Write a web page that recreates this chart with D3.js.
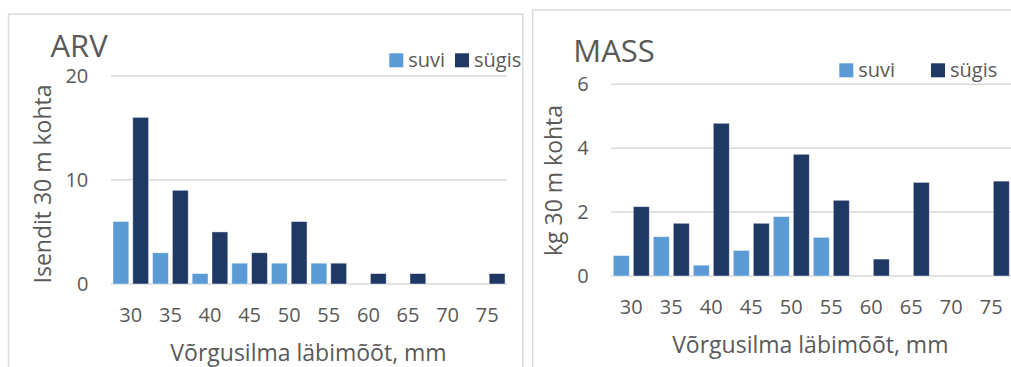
<!DOCTYPE html>
<html>
<head>
<meta charset="utf-8">
<script src="https://cdn.jsdelivr.net/npm/d3@7"></script>
<style>
  html, body { margin: 0; padding: 0; background: #ffffff; }
  svg { display: block; }
  text { font-family: "Open Sans", "Noto Sans", sans-serif; fill: #595959; }
</style>
</head>
<body>
<svg id="chart" width="1011" height="367"></svg>
<script>
// Võrgusilma läbimõõt (mm)
const categories = [30, 35, 40, 45, 50, 55, 60, 65, 70, 75];

// ARV: isendit 30 m kohta
const arvSuvi  = [6, 3, 1, 2, 2, 2, 0, 0, 0, 0];
const arvSygis = [16, 9, 5, 3, 6, 2, 1, 1, 0, 1];
const arvTicks = [0, 10, 20];

// MASS: kg 30 m kohta
const massSuvi  = [0.64, 1.23, 0.34, 0.80, 1.86, 1.21, 0, 0, 0, 0];
const massSygis = [2.17, 1.65, 4.78, 1.65, 3.81, 2.37, 0.53, 2.93, 0, 2.97];
const massTicks = [0, 2, 4, 6];

const seriesNames = ["suvi", "sügis"];
const seriesColors = ["#5B9BD5", "#203864"];
const xTitle = "Võrgusilma läbimõõt, mm";

const svg = d3.select("#chart");

function drawPanel(cfg) {
  const g = svg.append("g");

  // panel frame
  g.append("rect")
    .attr("x", cfg.frame[0]).attr("y", cfg.frame[1])
    .attr("width", cfg.frame[2]).attr("height", cfg.frame[3])
    .attr("fill", "#ffffff").attr("stroke", "#D9D9D9").attr("stroke-width", 1.5);

  const x0 = d3.scaleBand().domain(categories).range(cfg.xRange).paddingInner(0).paddingOuter(0);
  const x1 = d3.scaleBand().domain(seriesNames).range([0, x0.bandwidth()])
    .paddingInner(0.2).paddingOuter(0.1);
  const y = d3.scaleLinear().domain([0, d3.max(cfg.ticks)]).range(cfg.yRange);

  // gridlines
  g.append("g").selectAll("line").data(cfg.ticks).join("line")
    .attr("x1", cfg.xRange[0]).attr("x2", cfg.xRange[1])
    .attr("y1", d => y(d)).attr("y2", d => y(d))
    .attr("stroke", "#D9D9D9").attr("stroke-width", 1.5);

  // bars
  const rows = categories.map((c, i) => ({ c, vals: [cfg.suvi[i], cfg.sygis[i]] }));
  g.append("g").selectAll("g").data(rows).join("g")
    .attr("transform", d => `translate(${x0(d.c)},0)`)
    .selectAll("rect").data(d => d.vals.map((v, k) => ({ k, v })))
    .join("rect")
      .attr("x", d => x1(seriesNames[d.k]))
      .attr("width", x1.bandwidth())
      .attr("y", d => y(d.v))
      .attr("height", d => y(0) - y(d.v))
      .attr("fill", d => seriesColors[d.k])
      .attr("stroke", d => d.v > 0 ? "rgba(255,255,255,0.55)" : "none")
      .attr("stroke-width", 0.8);

  // axes
  const xAxis = g.append("g")
    .attr("transform", `translate(0,${cfg.yRange[0]})`)
    .call(d3.axisBottom(x0).tickSize(0).tickPadding(24));
  xAxis.select(".domain").remove();
  xAxis.selectAll("text").style("font-size", "20px").attr("fill", "#595959")
    .style("font-family", "'Open Sans', sans-serif");

  const yAxis = g.append("g")
    .attr("transform", `translate(${cfg.xRange[0]},0)`)
    .call(d3.axisLeft(y).tickValues(cfg.ticks).tickFormat(d3.format("d"))
      .tickSize(0).tickPadding(22.7));
  yAxis.select(".domain").remove();
  yAxis.selectAll("text").style("font-size", "20px").attr("fill", "#595959")
    .style("font-family", "'Open Sans', sans-serif");

  // title
  g.append("text").attr("x", cfg.titlePos[0]).attr("y", cfg.titlePos[1])
    .style("font-size", "31px").text(cfg.title);

  // axis titles
  g.append("text")
    .attr("transform", `translate(${cfg.yTitlePos[0]},${cfg.yTitlePos[1]}) rotate(-90)`)
    .attr("text-anchor", "middle").style("font-size", "23px").text(cfg.yTitle);
  g.append("text").attr("x", cfg.xTitlePos[0]).attr("y", cfg.xTitlePos[1])
    .attr("text-anchor", "middle").style("font-size", "23px").text(xTitle);

  // legend
  const leg = g.append("g");
  seriesNames.forEach((name, k) => {
    const lx = cfg.legendX[k];
    leg.append("rect").attr("x", lx).attr("y", cfg.legendY)
      .attr("width", 14).attr("height", 14).attr("fill", seriesColors[k]);
    leg.append("text").attr("x", lx + 19).attr("y", cfg.legendY + 14)
      .style("font-size", "20px").text(name);
  });
}

drawPanel({
  title: "ARV", yTitle: "Isendit 30 m kohta",
  suvi: arvSuvi, sygis: arvSygis, ticks: arvTicks,
  frame: [8.5, 14.2, 514.2, 380],
  xRange: [111, 507], yRange: [284, 75.7],
  titlePos: [50.5, 56.5], yTitlePos: [50.5, 184], xTitlePos: [308.5, 360.7],
  legendX: [389.3, 455], legendY: 53.3
});

drawPanel({
  title: "MASS", yTitle: "kg 30 m kohta",
  suvi: massSuvi, sygis: massSygis, ticks: massTicks,
  frame: [532.7, 10, 500, 380],
  xRange: [611.3, 1011.3], yRange: [276, 84.3],
  titlePos: [573.3, 62.3], yTitlePos: [561.5, 180.5], xTitlePos: [810.3, 353.3],
  legendX: [839.3, 931], legendY: 63.3
});
</script>
</body>
</html>
